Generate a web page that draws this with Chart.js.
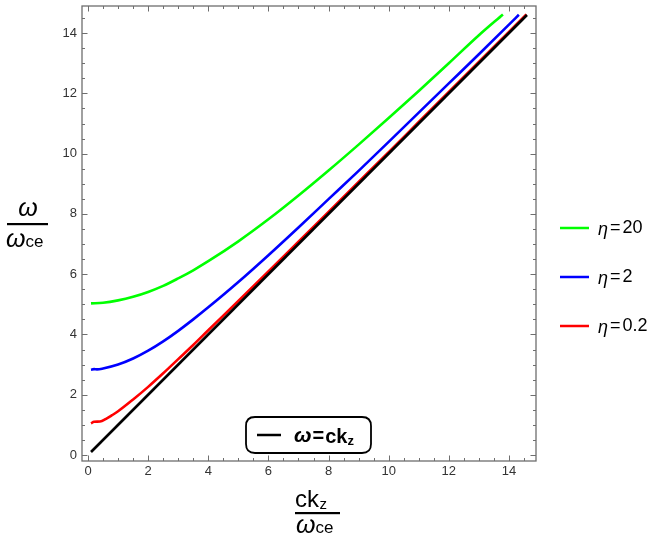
<!DOCTYPE html>
<html>
<head>
<meta charset="utf-8">
<script src="https://cdn.jsdelivr.net/npm/chart.js@4/dist/chart.umd.min.js"></script>
<style>
html,body{margin:0;padding:0;background:#fff;}
#wrap{width:652px;height:541px;}
</style>
</head>
<body>
<div id="wrap"><canvas id="c" width="652" height="541"></canvas></div>
<script>
// ---- data ----
const kGreen = [0.1,0.5,1,1.5,2,2.5,3,3.5,4,5,6,7,8,9,10,11,12,13,13.8];
const wGreen = [5.03,5.05,5.13,5.25,5.41,5.61,5.86,6.13,6.43,7.09,7.82,8.61,9.44,10.30,11.18,12.08,13.00,13.93,14.62];

const kBlue = [0.1,0.2,0.3,0.5,1,1.5,2,2.5,3,3.5,4,5,6,7,8,9,10,11,12,13,14,14.33];
const wBlue = [2.83,2.85,2.84,2.87,3.0,3.2,3.46,3.77,4.12,4.50,4.90,5.74,6.63,7.55,8.49,9.43,10.39,11.36,12.33,13.30,14.28,14.61];

const kRed = [0.1,0.2,0.4,0.6,0.8,1,1.5,2,2.5,3,3.5,4,5,6,7,8,9,10,11,12,13,14,14.58];
const wRed = [1.05,1.1,1.11,1.2,1.32,1.45,1.84,2.26,2.71,3.18,3.65,4.14,5.11,6.09,7.08,8.07,9.06,10.05,11.05,12.05,13.04,14.04,14.62];

const kBlack = [0.1,14.6];
const wBlack = [0.1,14.6];

const seriesLabels = ['η = 20','η = 2','η = 0.2'];
const xTickValues = [0,2,4,6,8,10,12,14];
const yTickValues = [0,2,4,6,8,10,12,14];
const xMinorValues = [];
const yMinorValues = [];
for (let v = 0; v <= 14.5; v += 0.5) { if (v % 2 !== 0) { xMinorValues.push(v); yMinorValues.push(v); } }

function pts(xs, ys){ return xs.map((x,i)=>({x:x, y:ys[i]})); }

const FONT = "'Liberation Sans', Arial, sans-serif";
const colors = {green:'#00ff00', blue:'#0000ff', red:'#ff0000', black:'#000000'};

const framePlugin = {
  id: 'frame',
  beforeDatasetsDraw(chart){
    const {ctx, chartArea:a, scales:{x, y}} = chart;
    ctx.save();
    ctx.strokeStyle = '#6e6e6e';
    ctx.lineWidth = 1.3;
    ctx.strokeRect(a.left, a.top, a.right - a.left, a.bottom - a.top);
    ctx.lineWidth = 1;
    ctx.beginPath();
    const tick = (v, len, horiz) => {
      if (horiz) {
        const px = Math.round(x.getPixelForValue(v)) + 0.5;
        ctx.moveTo(px, a.bottom); ctx.lineTo(px, a.bottom - len);
        ctx.moveTo(px, a.top); ctx.lineTo(px, a.top + len);
      } else {
        const py = Math.round(y.getPixelForValue(v)) + 0.5;
        ctx.moveTo(a.left, py); ctx.lineTo(a.left + len, py);
        ctx.moveTo(a.right, py); ctx.lineTo(a.right - len, py);
      }
    };
    xTickValues.forEach(v => tick(v, 5.5, true));
    xMinorValues.forEach(v => tick(v, 3, true));
    yTickValues.forEach(v => tick(v, 5.5, false));
    yMinorValues.forEach(v => tick(v, 3, false));
    ctx.stroke();
    ctx.restore();
  },
  afterDraw(chart){
    const ctx = chart.ctx;
    const ds = chart.data.datasets;
    ctx.save();
    ctx.fillStyle = '#000';
    ctx.textBaseline = 'alphabetic';
    // y-axis title: omega / omega_ce
    ctx.textAlign = 'center';
    ctx.font = "italic 25px " + FONT;
    ctx.fillText('ω', 28, 216);
    ctx.fillRect(7, 223, 41, 2.2);
    ctx.textAlign = 'left';
    ctx.fillText('ω', 6, 247);
    let wOm = ctx.measureText('ω').width;
    ctx.font = "17px " + FONT;
    ctx.fillText('ce', 6 + wOm, 247);

    // x-axis title: ck_z / omega_ce
    ctx.font = "24px " + FONT;
    ctx.fillText('ck', 295, 507);
    let wck = ctx.measureText('ck').width;
    ctx.font = "15px " + FONT;
    ctx.fillText('z', 295 + wck + 0.5, 509);
    ctx.fillRect(295, 512, 45, 2.2);
    ctx.font = "italic 25px " + FONT;
    ctx.fillText('ω', 296, 533);
    wOm = ctx.measureText('ω').width;
    ctx.font = "17px " + FONT;
    ctx.fillText('ce', 296 + wOm, 533);

    // right legend
    const legY = [228, 277, 326];
    const legDs = [ds[3], ds[2], ds[1]];
    legDs.forEach((d, i) => {
      ctx.strokeStyle = d.borderColor;
      ctx.lineWidth = 2.5;
      ctx.beginPath();
      ctx.moveTo(560, legY[i]); ctx.lineTo(589, legY[i]);
      ctx.stroke();
      ctx.fillStyle = '#000';
      ctx.textBaseline = 'middle';
      ctx.font = "italic 18px " + FONT;
      const parts = d.label.split(' = ');
      ctx.fillText('η', 598, legY[i] + 2);
      let xx = 598 + ctx.measureText('η').width + 2;
      ctx.font = "18px " + FONT;
      ctx.fillText('=', xx, legY[i]);
      xx += ctx.measureText('=').width + 2;
      ctx.fillText(parts[1], xx, legY[i]);
    });

    // inner legend box
    ctx.strokeStyle = '#000';
    ctx.lineWidth = 1.8;
    const bx = 246, by = 417, bw = 125, bh = 36, r = 9;
    ctx.beginPath();
    ctx.moveTo(bx + r, by);
    ctx.lineTo(bx + bw - r, by); ctx.quadraticCurveTo(bx + bw, by, bx + bw, by + r);
    ctx.lineTo(bx + bw, by + bh - r); ctx.quadraticCurveTo(bx + bw, by + bh, bx + bw - r, by + bh);
    ctx.lineTo(bx + r, by + bh); ctx.quadraticCurveTo(bx, by + bh, bx, by + bh - r);
    ctx.lineTo(bx, by + r); ctx.quadraticCurveTo(bx, by, bx + r, by);
    ctx.closePath();
    ctx.fillStyle = '#fff';
    ctx.fill();
    ctx.stroke();
    ctx.strokeStyle = ds[0].borderColor;
    ctx.lineWidth = 2.5;
    ctx.beginPath(); ctx.moveTo(257, 435); ctx.lineTo(281, 435); ctx.stroke();
    ctx.fillStyle = '#000';
    ctx.textBaseline = 'alphabetic';
    ctx.font = "italic bold 21px " + FONT;
    ctx.fillText('ω', 294, 442);
    let tx = 294 + ctx.measureText('ω').width + 1;
    ctx.font = "bold 20px " + FONT;
    ctx.fillText('=', tx, 442);
    tx += ctx.measureText('=').width + 1;
    ctx.fillText('ck', tx, 443);
    tx += ctx.measureText('ck').width;
    ctx.font = "bold 13px " + FONT;
    ctx.fillText('z', tx, 445);
    ctx.restore();
  }
};

const lineDs = (label, xs, ys, color) => ({
  label: label,
  data: pts(xs, ys),
  borderColor: color,
  backgroundColor: color,
  borderWidth: 2.6,
  pointRadius: 0,
  showLine: true,
  fill: false,
  cubicInterpolationMode: 'monotone'
});

const noPad = (s) => { s.paddingLeft = 0; s.paddingRight = 0; s.paddingTop = 0; s.paddingBottom = 0; };

new Chart(document.getElementById('c'), {
  type: 'scatter',
  data: {
    datasets: [
      lineDs('ω = ck_z', kBlack, wBlack, colors.black),
      lineDs(seriesLabels[2], kRed, wRed, colors.red),
      lineDs(seriesLabels[1], kBlue, wBlue, colors.blue),
      lineDs(seriesLabels[0], kGreen, wGreen, colors.green)
    ]
  },
  options: {
    responsive: false,
    animation: false,
    devicePixelRatio: 1,
    layout: { padding: { left: 0, top: 6, right: 116, bottom: 0 } },
    plugins: { legend: { display: false }, tooltip: { enabled: false } },
    scales: {
      x: {
        type: 'linear', min: -0.2, max: 14.9,
        grid: { display: false, drawTicks: false },
        border: { display: false },
        afterBuildTicks: (s) => { s.ticks = xTickValues.map(v => ({value: v})); },
        afterFit: (s) => { s.height = 80; noPad(s); },
        ticks: { color: '#333', font: { family: FONT, size: 13 }, padding: 3, maxRotation: 0,
                 callback: (v) => String(v) }
      },
      y: {
        type: 'linear', min: -0.2, max: 14.9,
        grid: { display: false, drawTicks: false },
        border: { display: false },
        afterBuildTicks: (s) => { s.ticks = yTickValues.map(v => ({value: v})); },
        afterFit: (s) => { s.width = 82; noPad(s); },
        ticks: { color: '#333', font: { family: FONT, size: 13 }, padding: 5,
                 callback: (v) => String(v) }
      }
    }
  },
  plugins: [framePlugin]
});
</script>
</body>
</html>
